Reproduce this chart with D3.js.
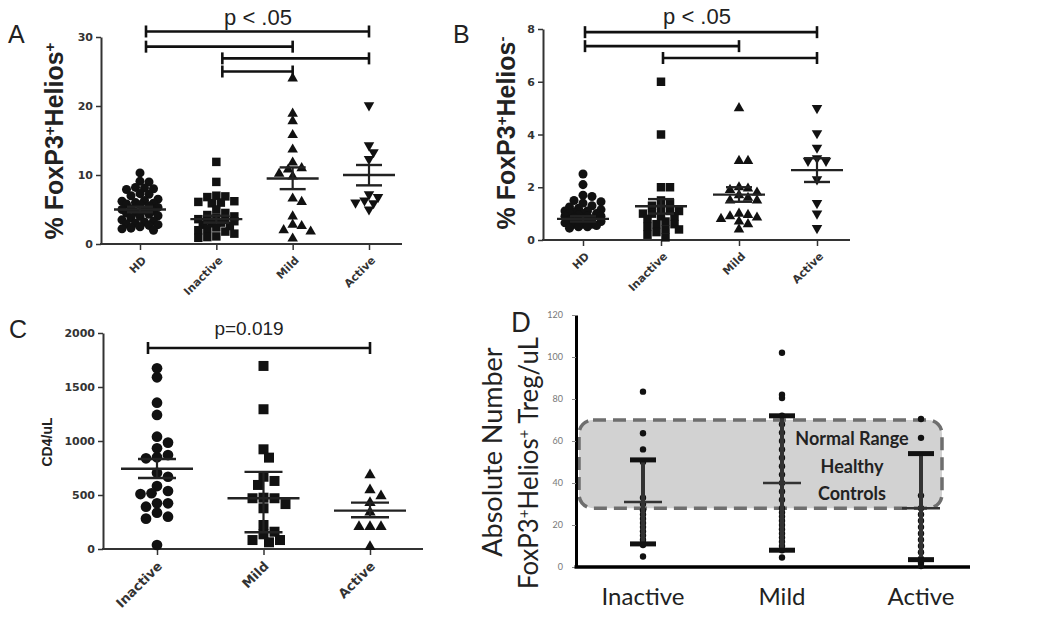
<!DOCTYPE html>
<html><head><meta charset="utf-8">
<script src="https://cdn.jsdelivr.net/npm/d3@7"></script>
<style>body{margin:0;background:#fff} svg{display:block}</style>
</head><body>
<svg id="c" width="1050" height="623"></svg>
<script>
// ---------- DATA ----------
const groupsAB = ["HD", "Inactive", "Mild", "Active"];
const groupsCD = ["Inactive", "Mild", "Active"];

// Panel A: % FoxP3+Helios+
const aHD = [10.3, 9.1, 9.0, 8.2, 8.1, 8.0, 7.9, 7.3, 7.2, 7.0, 6.5, 6.3, 6.2, 6.0, 5.9, 5.8, 5.7, 5.5, 5.3, 5.1, 5.0, 4.9, 4.8, 4.6, 4.5, 4.3, 4.1, 4.0, 3.8, 3.5, 3.3, 3.2, 3.0, 2.9, 2.8, 2.7, 2.5, 2.3, 2.2, 2.0];
const aInactive = [11.9, 9.0, 7.0, 6.9, 6.8, 6.2, 6.1, 6.0, 5.9, 5.0, 4.5, 4.2, 4.0, 3.8, 3.6, 3.5, 3.4, 3.3, 3.1, 3.0, 2.8, 2.6, 2.4, 2.2, 2.0, 1.8, 1.5, 1.1, 1.0, 0.9];
const aMild = [24.0, 18.9, 17.8, 15.8, 13.7, 11.8, 11.0, 10.8, 10.2, 9.8, 6.6, 6.1, 4.0, 2.8, 2.6, 2.0, 1.8, 0.8];
const aActive = [20.1, 14.3, 13.3, 12.3, 7.2, 6.8, 6.3, 6.0, 5.9, 5.0];
const aMean = [5.0, 3.6, 9.5, 10.0];
const aLow = [4.6, 3.1, 7.95, 8.5];
const aHigh = [5.4, 4.1, 11.1, 11.45];
const sigA = [["HD", "Active", 30.8], ["HD", "Mild", 28.6], ["Inactive", "Active", 26.9], ["Inactive", "Mild", 25.0]];

// Panel B: % FoxP3+Helios-
const bHD = [2.5, 2.1, 1.7, 1.65, 1.5, 1.45, 1.4, 1.3, 1.25, 1.2, 1.15, 1.1, 1.1, 1.05, 1.0, 1.0, 1.0, 0.95, 0.9, 0.9, 0.9, 0.85, 0.8, 0.8, 0.75, 0.7, 0.7, 0.7, 0.65, 0.6, 0.6, 0.6, 0.55, 0.5, 0.5, 0.45];
const bInactive = [6.0, 4.0, 2.0, 2.0, 1.5, 1.4, 1.3, 1.2, 1.1, 1.1, 1.0, 1.0, 0.9, 0.9, 0.8, 0.7, 0.6, 0.6, 0.5, 0.4, 0.4, 0.3, 0.2, 0.1];
const bMild = [5.0, 3.0, 3.0, 2.0, 1.95, 1.9, 1.8, 1.7, 1.6, 1.5, 1.5, 1.0, 0.95, 0.9, 0.85, 0.8, 0.7, 0.6, 0.4];
const bActive = [5.0, 4.05, 3.5, 3.1, 3.0, 3.0, 2.3, 1.4, 1.0, 0.45];
const bMean = [0.8, 1.28, 1.72, 2.65];
const bLow = [0.7, 1.0, 1.45, 2.2];
const bHigh = [0.9, 1.55, 2.0, 3.1];
const sigB = [["HD", "Active", 7.88], ["HD", "Mild", 7.35], ["Inactive", "Active", 6.9]];

// Panel C: CD4/uL
const cInactive = [1673, 1590, 1355, 1241, 1040, 985, 933, 870, 849, 840, 706, 669, 583, 537, 516, 509, 423, 423, 392, 336, 299, 281, 37];
const cMild = [1695, 1294, 923, 846, 669, 630, 593, 475, 470, 470, 416, 377, 222, 160, 136, 83, 83, 62];
const cActive = [685, 546, 491, 429, 340, 206, 206, 206, 21];
const cMean = [743, 470, 355];
const cLow = [657, 155, 294];
const cHigh = [833, 714, 429];
const sigC = [["Inactive", "Active", 1861]];

// Panel D: Absolute number FoxP3+Helios+ Treg/uL
const dInactive = [83.5, 63.7, 56, 50, 33, 30, 27, 25, 23, 21, 19, 17, 15, 13, 11.5, 10.5, 5];
const dMild = [102, 82, 80.5, 72, 68, 64, 60, 56, 52, 48, 44, 40, 36, 32, 28, 26, 24, 22, 20, 18, 16, 14, 12, 10, 8, 4.5];
const dActive = [70.5, 61.5, 34, 28, 25, 22, 19, 16, 13, 10, 7, 4, 2, 0.5];
const dMean = [31, 40, 28];
const dLow = [11, 8, 3.5];
const dHigh = [51, 72, 54];
const normalRange = [28, 70];
const normalText = ["Normal Range", "Healthy", "Controls"];

// ---------- DRAW ----------
const svg = d3.select("#c");
const sans = "'Liberation Sans', Arial, sans-serif";
const djv = "'DejaVu Sans', sans-serif";
const gill = "Lato, 'Open Sans', sans-serif";

// compact dot-plot layout: spread overlapping points horizontally, within a limited width
function swarm(vals, y, cx, d, maxW) {
  const pts = vals.map(v => ({ v, py: y(v) })).sort((a, b) => a.py - b.py);
  const placed = [];
  const step = d * 0.5, thr = d * 0.8;
  const nMax = Math.floor(maxW / step);
  pts.forEach(p => {
    let best = null, bestD = -1;
    for (let k = 0; k <= 2 * nMax; k++) {
      const m = Math.ceil(k / 2) * (k % 2 ? 1 : -1);
      const px = cx + m * step;
      let md = Infinity;
      placed.forEach(q => { md = Math.min(md, Math.hypot(q.px - px, q.py - p.py)); });
      if (md >= thr) { best = px; break; }
      if (md > bestD) { bestD = md; best = px; }
    }
    p.px = best; placed.push(p);
  });
  return placed;
}

function symbolPath(kind, size) {
  const t = { circle: d3.symbolCircle, square: d3.symbolSquare, tri: d3.symbolTriangle, tridown: d3.symbolTriangle }[kind];
  return d3.symbol().type(t).size(size)();
}

function scatterPanel(cfg) {
  const g = svg.append("g");
  const x = d3.scalePoint().domain(cfg.groups).range(cfg.xr);
  const y = d3.scaleLinear().domain(cfg.yd).range(cfg.yr);
  const y0 = y(0);
  // y axis
  const ya = g.append("g").attr("transform", `translate(${cfg.ax0},0)`)
    .call(d3.axisLeft(y).tickValues(cfg.yticks).tickFormat(d3.format("d")).tickSize(5).tickSizeOuter(0).tickPadding(3));
  ya.select(".domain").attr("stroke", "#333").attr("stroke-width", 2);
  ya.selectAll(".tick line").attr("stroke", "#333").attr("stroke-width", 1.5);
  ya.selectAll(".tick text").attr("font-family", djv).attr("font-weight", "bold")
    .attr("font-size", cfg.tickFs).attr("fill", "#333");
  // x axis
  const xa = g.append("g").attr("transform", `translate(0,${y0})`)
    .call(d3.axisBottom(x).tickSize(6).tickSizeOuter(0).tickFormat(() => ""));
  xa.select(".domain").remove();
  xa.selectAll(".tick line").attr("stroke", "#333").attr("stroke-width", 1.5);
  g.append("line").attr("x1", cfg.ax0 - 1).attr("x2", cfg.ax1).attr("y1", y0).attr("y2", y0)
    .attr("stroke", "#333").attr("stroke-width", 2);
  // rotated category labels
  cfg.groups.forEach(c => {
    g.append("text").attr("transform", `translate(${x(c) + cfg.lblDx},${y0 + cfg.lblDy}) rotate(-45)`)
      .attr("text-anchor", "end").attr("font-family", djv).attr("font-weight", "bold")
      .attr("font-size", cfg.lblFs).attr("fill", "#333").text(c);
  });
  // points
  cfg.series.forEach((vals, i) => {
    const c = cfg.groups[i];
    const pts = swarm(vals, y, x(c), cfg.dot, cfg.maxW);
    const kind = cfg.symbols[i];
    g.selectAll(null).data(pts).join("path")
      .attr("d", symbolPath(kind, cfg.symSize[kind]))
      .attr("transform", p => `translate(${p.px},${p.py})` + (kind === "tridown" ? " rotate(180)" : ""))
      .attr("fill", "#111");
  });
  // mean and error bars
  cfg.groups.forEach((c, i) => {
    const cx = x(c);
    g.append("line").attr("x1", cx).attr("x2", cx).attr("y1", y(cfg.low[i])).attr("y2", y(cfg.high[i]))
      .attr("stroke", "#222").attr("stroke-width", 2.2);
    [cfg.low[i], cfg.high[i]].forEach(v => g.append("line")
      .attr("x1", cx - cfg.capW).attr("x2", cx + cfg.capW).attr("y1", y(v)).attr("y2", y(v))
      .attr("stroke", "#222").attr("stroke-width", 2.4));
    g.append("line").attr("x1", cx - cfg.meanW).attr("x2", cx + cfg.meanW).attr("y1", y(cfg.mean[i])).attr("y2", y(cfg.mean[i]))
      .attr("stroke", "#222").attr("stroke-width", 2.4);
  });
  // significance brackets
  cfg.sig.forEach(([a, b, v]) => {
    const yy = y(v);
    g.append("line").attr("x1", x(a) + cfg.sigDx).attr("x2", x(b)).attr("y1", yy).attr("y2", yy)
      .attr("stroke", "#111").attr("stroke-width", 2.6);
    [x(a) + cfg.sigDx, x(b)].forEach(xx => g.append("line").attr("x1", xx).attr("x2", xx)
      .attr("y1", yy - 6).attr("y2", yy + 6).attr("stroke", "#111").attr("stroke-width", 2.6));
  });
  g.append("text").attr("x", cfg.pText[0]).attr("y", cfg.pText[1]).attr("text-anchor", "middle")
    .attr("font-family", sans).attr("font-size", cfg.pFs).attr("fill", "#222").text(cfg.pLabel);
  // panel letter
  g.append("text").attr("x", cfg.letter[0]).attr("y", cfg.letter[1]).attr("font-family", sans)
    .attr("font-size", 25).attr("fill", "#222").text(cfg.letterText);
  // y label
  const yl = g.append("text").attr("transform", `translate(${cfg.ylab[0]},${cfg.ylab[1]}) rotate(-90)`)
    .attr("text-anchor", "middle").attr("font-family", sans).attr("font-weight", "bold")
    .attr("font-size", cfg.ylabFs).attr("fill", "#222");
  cfg.ylabParts.forEach(([t, sup]) => {
    const ts = yl.append("tspan").text(t);
    if (sup) ts.attr("baseline-shift", "super").attr("font-size", cfg.ylabFs * 0.6);
  });
  return { x, y };
}

// Panel A
scatterPanel({
  groups: groupsAB, xr: [140, 369], yd: [0, 30], yr: [244, 37], ax0: 101, ax1: 402,
  yticks: [0, 10, 20, 30], tickFs: 11, lblFs: 11, lblDx: 7, lblDy: 17,
  series: [aHD, aInactive, aMild, aActive], symbols: ["circle", "square", "tri", "tridown"],
  symSize: { circle: 64, square: 72, tri: 48, tridown: 48 }, dot: 9, maxW: 21,
  mean: aMean, low: aLow, high: aHigh, capW: 13, meanW: 26,
  sig: sigA, sigDx: 6, pText: [258, 25], pFs: 22, pLabel: "p < .05",
  letter: [8, 43], letterText: "A", ylab: [63, 141], ylabFs: 25,
  ylabParts: [["% FoxP3", false], ["+", true], ["Helios", false], ["+", true]]
});

// Panel B
scatterPanel({
  groups: groupsAB, xr: [583, 817], yd: [0, 8], yr: [240, 29], ax0: 543, ax1: 850,
  yticks: [0, 2, 4, 6, 8], tickFs: 11, lblFs: 11, lblDx: 7, lblDy: 17,
  series: [bHD, bInactive, bMild, bActive], symbols: ["circle", "square", "tri", "tridown"],
  symSize: { circle: 64, square: 72, tri: 48, tridown: 48 }, dot: 9, maxW: 21,
  mean: bMean, low: bLow, high: bHigh, capW: 13, meanW: 26,
  sig: sigB, sigDx: 2, pText: [697, 24], pFs: 22, pLabel: "p < .05",
  letter: [453, 43], letterText: "B", ylab: [515, 133], ylabFs: 25,
  ylabParts: [["% FoxP3", false], ["+", true], ["Helios", false], ["-", true]]
});

// Panel C
scatterPanel({
  groups: groupsCD, xr: [157, 370], yd: [0, 2000], yr: [549, 333], ax0: 103, ax1: 423,
  yticks: [0, 500, 1000, 1500, 2000], tickFs: 11, lblFs: 13, lblDx: 6, lblDy: 18,
  series: [cInactive, cMild, cActive], symbols: ["circle", "square", "tri"],
  symSize: { circle: 90, square: 100, tri: 55 }, dot: 11, maxW: 27,
  mean: cMean, low: cLow, high: cHigh, capW: 19, meanW: 36,
  sig: sigC, sigDx: -9, pText: [249, 335], pFs: 19, pLabel: "p=0.019",
  letter: [9, 338], letterText: "C", ylab: [52, 442], ylabFs: 14,
  ylabParts: [["CD4/uL", false]]
});

// Panel D
(function () {
  const g = svg.append("g");
  const x = d3.scalePoint().domain(groupsCD).range([643, 921]);
  const y = d3.scaleLinear().domain([0, 120]).range([567, 315]);
  const ax0 = 576, ax1 = 970;
  // normal range box
  g.append("rect").attr("x", ax0 + 3).attr("y", y(normalRange[1]))
    .attr("width", x("Active") + 21 - ax0 - 3).attr("height", y(normalRange[0]) - y(normalRange[1]))
    .attr("rx", 14).attr("fill", "#d2d2d2").attr("stroke", "#6e6e6e")
    .attr("stroke-width", 3.5).attr("stroke-dasharray", "13 7");
  // text in box
  normalText.forEach((t, i) => g.append("text").attr("x", 852).attr("y", 445 + i * 27.5)
    .attr("text-anchor", "middle").attr("font-family", gill).attr("font-weight", "bold")
    .attr("font-size", 18).attr("fill", "#222").text(t));
  // axes
  const ya = g.append("g").attr("transform", `translate(${ax0},0)`)
    .call(d3.axisLeft(y).tickValues([0, 20, 40, 60, 80, 100, 120]).tickSize(4).tickSizeOuter(0).tickPadding(9));
  ya.select(".domain").attr("stroke", "#000").attr("stroke-width", 3);
  ya.selectAll(".tick line").attr("stroke", "#888");
  ya.selectAll(".tick text").attr("font-family", gill).attr("font-size", 9).attr("fill", "#777");
  g.append("line").attr("x1", ax0 - 1.5).attr("x2", ax1).attr("y1", y(0)).attr("y2", y(0))
    .attr("stroke", "#000").attr("stroke-width", 3.5);
  groupsCD.forEach(c => g.append("text").attr("x", x(c)).attr("y", 605).attr("text-anchor", "middle")
    .attr("font-family", gill).attr("font-size", 24).attr("fill", "#222").text(c));
  // points
  [dInactive, dMild, dActive].forEach((vals, i) => {
    g.selectAll(null).data(vals).join("circle").attr("cx", x(groupsCD[i])).attr("cy", v => y(v))
      .attr("r", 3.2).attr("fill", "#111");
  });
  // error bars
  groupsCD.forEach((c, i) => {
    const cx = x(c);
    g.append("line").attr("x1", cx).attr("x2", cx).attr("y1", y(dLow[i])).attr("y2", y(dHigh[i]))
      .attr("stroke", "#333").attr("stroke-width", 4);
    [dLow[i], dHigh[i]].forEach(v => g.append("line").attr("x1", cx - 13).attr("x2", cx + 13)
      .attr("y1", y(v)).attr("y2", y(v)).attr("stroke", "#111").attr("stroke-width", 5));
    g.append("line").attr("x1", cx - 19).attr("x2", cx + 19).attr("y1", y(dMean[i])).attr("y2", y(dMean[i]))
      .attr("stroke", "#333").attr("stroke-width", 2.5);
  });
  // labels
  g.append("text").attr("x", 511).attr("y", 332).attr("font-family", gill)
    .attr("font-size", 26).attr("fill", "#222").text("D");
  g.append("text").attr("transform", "translate(502,452) rotate(-90)").attr("text-anchor", "middle")
    .attr("font-family", gill).attr("font-size", 27).attr("fill", "#222").text("Absolute Number");
  const l2 = g.append("text").attr("transform", "translate(538,463) rotate(-90)").attr("text-anchor", "middle")
    .attr("font-family", gill).attr("font-size", 27).attr("fill", "#222")
    .attr("textLength", 252).attr("lengthAdjust", "spacingAndGlyphs");
  [["FoxP3", false], ["+", true], ["Helios", false], ["+", true], [" Treg/uL", false]].forEach(([t, s]) => {
    const ts = l2.append("tspan").text(t);
    if (s) ts.attr("baseline-shift", "super").attr("font-size", 16);
  });
})();
</script>
</body></html>
